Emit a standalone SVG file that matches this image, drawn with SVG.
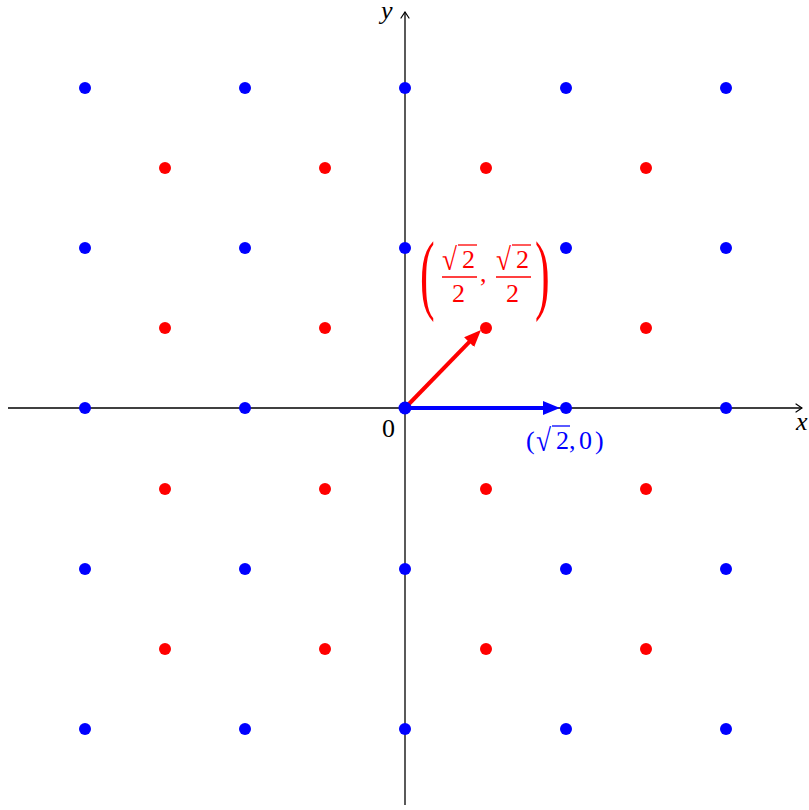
<svg xmlns="http://www.w3.org/2000/svg" width="809" height="810" viewBox="0 0 809 810">
<defs>
<style>
.ax{stroke:#000;stroke-width:1.3;fill:none}
.b{fill:#0000ff}
.r{fill:#ff0000}
.t{font-family:"Liberation Serif","DejaVu Serif",serif;font-size:26px}
.it{font-style:italic}
.vr{stroke:#ff0000;stroke-width:1.3}
.vb{stroke:#0000ff;stroke-width:1.3}
</style>
<marker id="axh" viewBox="-7 -5 8 10" refX="0" refY="0" markerWidth="8" markerHeight="10" markerUnits="userSpaceOnUse" orient="auto">
<path d="M-6,-4 Q-1.5,-1 0,0 Q-1.5,1 -6,4" fill="none" stroke="#000" stroke-width="1.2" stroke-linecap="round"/>
</marker>
<marker id="ah-b" viewBox="0 0 17 14" refX="7" refY="7" markerWidth="17" markerHeight="14" markerUnits="userSpaceOnUse" orient="auto">
<path d="M0,0 L17,7 L0,14 Z" fill="#0000ff"/>
</marker>
<marker id="ah-r" viewBox="0 0 17 14" refX="7" refY="7" markerWidth="17" markerHeight="14" markerUnits="userSpaceOnUse" orient="auto">
<path d="M0,0 L17,7 L0,14 Z" fill="#ff0000"/>
</marker>
</defs>
<rect width="809" height="810" fill="#fff"/>
<g id="axes">
<line class="ax" x1="8" y1="408" x2="802" y2="408" marker-end="url(#axh)"/>
<line class="ax" x1="405" y1="805" x2="405" y2="12" marker-end="url(#axh)"/>
<text class="t it" x="796" y="430">x</text>
<text class="t it" x="381" y="19" font-size="25">y</text>
<text class="t" x="382" y="437">0</text>
</g>
<g id="blue-lattice" class="b">
<circle cx="85" cy="88" r="6"/><circle cx="245" cy="88" r="6"/><circle cx="405" cy="88" r="6"/><circle cx="566" cy="88" r="6"/><circle cx="726" cy="88" r="6"/>
<circle cx="85" cy="248" r="6"/><circle cx="245" cy="248" r="6"/><circle cx="405" cy="248" r="6"/><circle cx="566" cy="248" r="6"/><circle cx="726" cy="248" r="6"/>
<circle cx="85" cy="408" r="6"/><circle cx="245" cy="408" r="6"/><circle cx="566" cy="408" r="6"/><circle cx="726" cy="408" r="6"/>
<circle cx="85" cy="569" r="6"/><circle cx="245" cy="569" r="6"/><circle cx="405" cy="569" r="6"/><circle cx="566" cy="569" r="6"/><circle cx="726" cy="569" r="6"/>
<circle cx="85" cy="729" r="6"/><circle cx="245" cy="729" r="6"/><circle cx="405" cy="729" r="6"/><circle cx="566" cy="729" r="6"/><circle cx="726" cy="729" r="6"/>
</g>
<g id="red-lattice" class="r">
<circle cx="165" cy="168" r="6"/><circle cx="325" cy="168" r="6"/><circle cx="486" cy="168" r="6"/><circle cx="646" cy="168" r="6"/>
<circle cx="165" cy="328" r="6"/><circle cx="325" cy="328" r="6"/><circle cx="486" cy="328" r="6"/><circle cx="646" cy="328" r="6"/>
<circle cx="165" cy="489" r="6"/><circle cx="325" cy="489" r="6"/><circle cx="486" cy="489" r="6"/><circle cx="646" cy="489" r="6"/>
<circle cx="165" cy="649" r="6"/><circle cx="325" cy="649" r="6"/><circle cx="486" cy="649" r="6"/><circle cx="646" cy="649" r="6"/>
</g>
<g id="connectors">
<line x1="405" y1="408" x2="474" y2="337.2" stroke="#ff0000" stroke-width="4" marker-end="url(#ah-r)"/>
<line x1="405" y1="408" x2="550" y2="408" stroke="#0000ff" stroke-width="4" marker-end="url(#ah-b)"/>
</g>
<g id="origin" class="b"><circle cx="405" cy="408" r="6.5"/></g>
<g id="label-red" fill="#ff0000" class="t">
<text x="0" y="0" font-size="88" transform="translate(420,303) scale(0.5,1)">(</text>
<text x="0" y="0" font-size="88" transform="translate(535,303) scale(0.5,1)">)</text>
<text x="0" y="0" transform="translate(442,270) scale(1.05,1.2)">√</text>
<text x="462" y="268">2</text>
<line class="vr" x1="458" y1="245" x2="477" y2="245"/>
<line class="vr" x1="442" y1="277" x2="477" y2="277"/>
<text x="452" y="302">2</text>
<text x="480" y="282">,</text>
<text x="0" y="0" transform="translate(496,270) scale(1.05,1.2)">√</text>
<text x="516" y="268">2</text>
<line class="vr" x1="512" y1="245" x2="531" y2="245"/>
<line class="vr" x1="496" y1="277" x2="531" y2="277"/>
<text x="506" y="302">2</text>
</g>
<g id="label-blue" fill="#0000ff" class="t">
<text x="526" y="449">(</text>
<text x="0" y="0" transform="translate(536,451) scale(1.05,1.2)">√</text>
<text x="556" y="449">2</text>
<line class="vb" x1="552" y1="426" x2="570" y2="426"/>
<text x="569" y="449">,</text>
<text x="579" y="449">0</text>
<text x="595" y="449">)</text>
</g>
</svg>
